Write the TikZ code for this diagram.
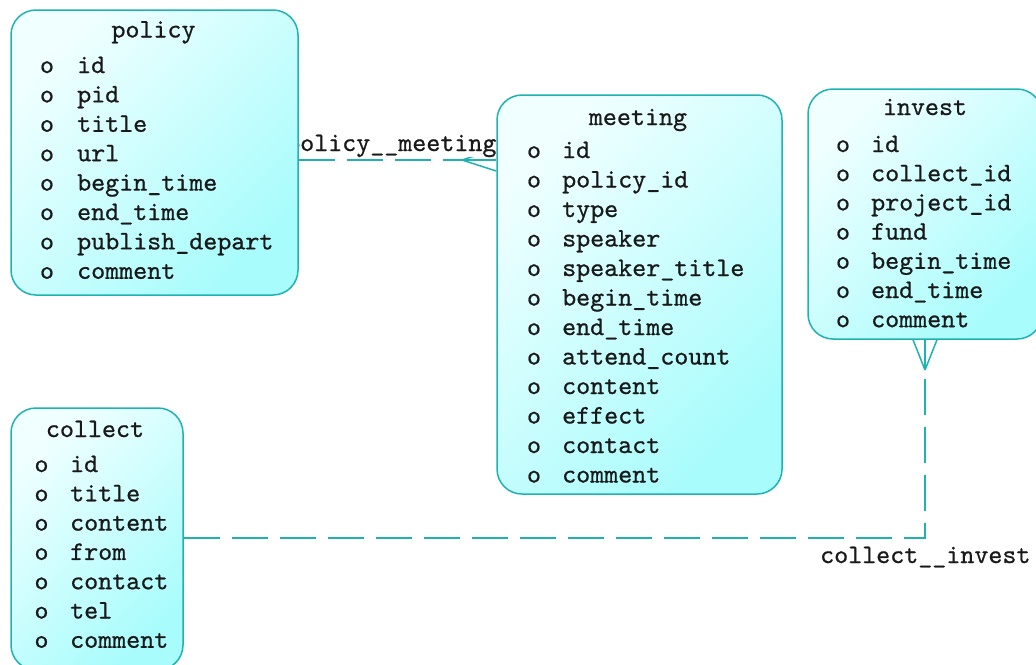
\documentclass[tikz,border=0pt]{standalone}
\usepackage{fontspec}
\newfontfamily\erfont{lmmono10-regular.otf}[FakeBold=0.7]
\usetikzlibrary{calc,backgrounds}

\definecolor{erline}{RGB}{32,178,178}
\definecolor{erlight}{RGB}{240,255,255}
\definecolor{erdeep}{RGB}{168,252,252}

\tikzset{
  entity/.style={draw=erline, line width=1.5pt, rounded corners=25pt,
    top color=erlight, bottom color=erdeep, shading angle=45, inner sep=0pt},
  fld/.style={font=\erfont\fontsize{26.7}{30}\selectfont, inner sep=0pt, text=black!90},
  rel/.style={draw=erline, line width=1.5pt, dash pattern=on 36pt off 12pt},
  foot/.style={draw=erline, line width=1.5pt},
  rellabel/.style={fld, fill=white},
}

% #1 prefix, #2 bullet x, #3 name x, #4 first baseline, #5 row pitch, #6 names
\newcommand\erfields[6]{%
  \foreach \f [count=\i from 0] in {#6} {
    \node[fld, anchor=base] (#1-o\i) at (#2, {#4+#5*\i}) {o};
    \node[fld, anchor=base west] (#1-f\i) at (#3, {#4+#5*\i}) {\f};
  }}

\begin{document}
\begin{tikzpicture}[x=1pt,y=-1pt]
\useasboundingbox (0,0) rectangle (1036,664);
\clip (0,0) rectangle (1036,664);

% entity boxes
\node[entity, minimum width=287pt, minimum height=285pt] (policy)  at (154.5,152.5) {};
\node[entity, minimum width=285pt, minimum height=399pt] (meeting) at (639.5,294.5) {};
\node[entity, minimum width=234pt, minimum height=250pt] (invest)  at (925,214) {};
\node[entity, minimum width=172pt, minimum height=262pt] (collect) at (97,539) {};

% titles
\node[fld, anchor=base] (policy-t)  at (153.5,37.5) {policy};
\node[fld, anchor=base] (meeting-t) at (638,125) {meeting};
\node[fld, anchor=base] (invest-t)  at (925,115) {invest};
\node[fld, anchor=base] (collect-t) at (95,437) {collect};

% columns
\erfields{policy}{47}{77}{73}{29.4}{id,pid,title,url,begin\_time,end\_time,publish\_depart,comment}
\erfields{meeting}{534}{562}{158}{29.5}{id,policy\_id,type,speaker,speaker\_title,begin\_time,end\_time,attend\_count,content,effect,contact,comment}
\erfields{invest}{843}{871}{152}{29.2}{id,collect\_id,project\_id,fund,begin\_time,end\_time,comment}
\erfields{collect}{41.5}{70}{472}{29.3}{id,title,content,from,contact,tel,comment}

% relationships
\coordinate (pmfork) at (462,160);
\coordinate (cifork) at (925,370);
\coordinate (cibend) at (925,538);
\begin{pgfonlayer}{background}
  \draw[rel] (policy.east |- pmfork) -- (pmfork);
  \draw[foot] (pmfork) -- (meeting.west |- pmfork);
  \draw[foot] (pmfork) -- ($(meeting.west |- pmfork)+(0,-11)$);
  \draw[foot] (pmfork) -- ($(meeting.west |- pmfork)+(0,11)$);
  \node[rellabel, anchor=base west] (pmlabel) at (286,151) {policy\_\_meeting};

  \draw[rel] (collect.east |- cibend) -- (cibend) -- (cifork);
  \draw[foot] (cifork) -- (invest.south);
  \draw[foot] (cifork) -- ($(invest.south)+(-12,0)$);
  \draw[foot] (cifork) -- ($(invest.south)+(12,0)$);
  \node[rellabel, anchor=base west] (cilabel) at (820,563) {collect\_\_invest};
\end{pgfonlayer}
\end{tikzpicture}
\end{document}
